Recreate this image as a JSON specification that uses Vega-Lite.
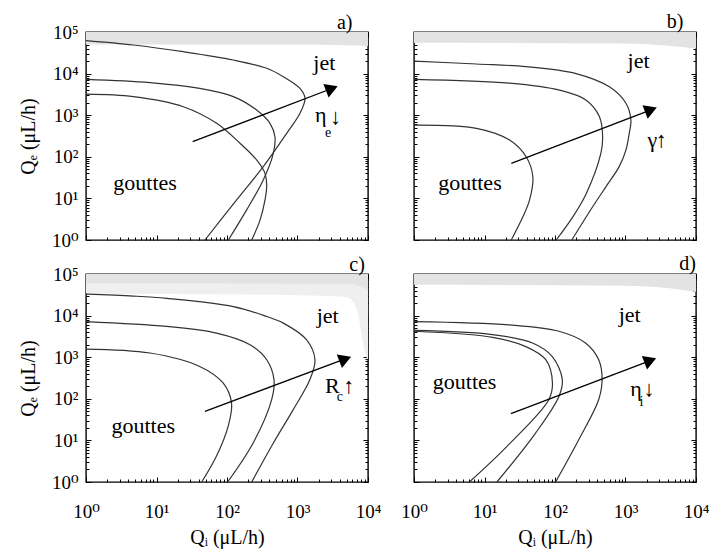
{
"$schema": "https://vega.github.io/schema/vega-lite/v6.json",
"padding": {"left": 17, "top": 10, "right": 10, "bottom": 5},
"background": "white",
"config": {
  "font": "Liberation Serif, Times New Roman, DejaVu Serif, serif",
  "view": {"stroke": "#000", "strokeWidth": 1.4},
  "axis": {"domain": false, "grid": false, "tickColor": "#000", "tickWidth": 1, "labelFont": "Liberation Serif, Times New Roman, DejaVu Serif, serif", "labelFontSize": 19, "labelColor": "#000", "titleFont": "Liberation Serif, Times New Roman, DejaVu Serif, serif", "titleFontSize": 20, "titleFontWeight": "normal", "titleColor": "#000", "labelFlush": false, "labelOverlap": false, "zindex": 1},
  "title": {"font": "Liberation Serif, Times New Roman, DejaVu Serif, serif", "fontSize": 20, "fontWeight": "normal", "color": "#000"}
},
"datasets": {
  "shade": [
    {"p":"a","tone":"dark","x":1,"y":50000,"y2":100000},{"p":"a","tone":"dark","x":1000,"y":50000,"y2":100000},{"p":"a","tone":"dark","x":5000,"y":48000,"y2":100000},{"p":"a","tone":"dark","x":10000,"y":46000,"y2":100000},
    {"p":"b","tone":"dark","x":1,"y":55000,"y2":100000},{"p":"b","tone":"dark","x":1000,"y":53000,"y2":100000},{"p":"b","tone":"dark","x":2000,"y":51000,"y2":100000},{"p":"b","tone":"dark","x":4000,"y":47000,"y2":100000},{"p":"b","tone":"dark","x":7000,"y":43000,"y2":100000},{"p":"b","tone":"dark","x":10000,"y":40000,"y2":100000},
    {"p":"c","tone":"light","x":1,"y":34000,"y2":100000},{"p":"c","tone":"light","x":1000,"y":31000,"y2":100000},{"p":"c","tone":"light","x":5000,"y":28000,"y2":100000},{"p":"c","tone":"light","x":6530,"y":18000,"y2":100000},{"p":"c","tone":"light","x":7200,"y":11600,"y2":100000},{"p":"c","tone":"light","x":8220,"y":3100,"y2":100000},{"p":"c","tone":"light","x":9060,"y":1280,"y2":100000},{"p":"c","tone":"light","x":10000,"y":870,"y2":100000},
    {"p":"c","tone":"dark","x":1,"y":60000,"y2":100000},{"p":"c","tone":"dark","x":5000,"y":58000,"y2":100000},{"p":"c","tone":"dark","x":8000,"y":50000,"y2":100000},{"p":"c","tone":"dark","x":10000,"y":40000,"y2":100000},
    {"p":"d","tone":"dark","x":1,"y":55000,"y2":100000},{"p":"d","tone":"dark","x":1000,"y":52000,"y2":100000},{"p":"d","tone":"dark","x":3000,"y":48000,"y2":100000},{"p":"d","tone":"dark","x":6000,"y":42000,"y2":100000},{"p":"d","tone":"dark","x":10000,"y":37000,"y2":100000}
  ],
  "curves": [
    {"p":"a","c":1,"i":0,"x":1,"y":62000},{"p":"a","c":1,"i":1,"x":4.7,"y":48700},{"p":"a","c":1,"i":2,"x":24,"y":33600},{"p":"a","c":1,"i":3,"x":123,"y":21200},{"p":"a","c":1,"i":4,"x":366,"y":13400},{"p":"a","c":1,"i":5,"x":630,"y":8400},{"p":"a","c":1,"i":6,"x":1084,"y":4400},{"p":"a","c":1,"i":7,"x":1277,"y":2560},{"p":"a","c":1,"i":8,"x":1084,"y":1110},{"p":"a","c":1,"i":9,"x":703,"y":367},{"p":"a","c":1,"i":10,"x":327,"y":58},{"p":"a","c":1,"i":11,"x":137,"y":9.2},{"p":"a","c":1,"i":12,"x":48.7,"y":1},
    {"p":"a","c":2,"i":0,"x":1,"y":7300},{"p":"a","c":2,"i":1,"x":8.1,"y":6100},{"p":"a","c":2,"i":2,"x":41,"y":4400},{"p":"a","c":2,"i":3,"x":123,"y":2800},{"p":"a","c":2,"i":4,"x":263,"y":1330},{"p":"a","c":2,"i":5,"x":407,"y":638},{"p":"a","c":2,"i":6,"x":479,"y":304},{"p":"a","c":2,"i":7,"x":454,"y":121},{"p":"a","c":2,"i":8,"x":327,"y":27.7},{"p":"a","c":2,"i":9,"x":190,"y":5.3},{"p":"a","c":2,"i":10,"x":104.5,"y":1},
    {"p":"a","c":3,"i":0,"x":1,"y":3200},{"p":"a","c":3,"i":1,"x":4.7,"y":2790},{"p":"a","c":3,"i":2,"x":24,"y":1600},{"p":"a","c":3,"i":3,"x":71.4,"y":638},{"p":"a","c":3,"i":4,"x":153,"y":211},{"p":"a","c":3,"i":5,"x":263,"y":84},{"p":"a","c":3,"i":6,"x":346,"y":40},{"p":"a","c":3,"i":7,"x":366,"y":21},{"p":"a","c":3,"i":8,"x":346,"y":9.2},{"p":"a","c":3,"i":9,"x":294,"y":3.0},{"p":"a","c":3,"i":10,"x":224,"y":1},
    {"p":"b","c":1,"i":0,"x":1,"y":20000},{"p":"b","c":1,"i":1,"x":7.7,"y":17000},{"p":"b","c":1,"i":2,"x":39,"y":14700},{"p":"b","c":1,"i":3,"x":199,"y":10000},{"p":"b","c":1,"i":4,"x":590,"y":4800},{"p":"b","c":1,"i":5,"x":1014,"y":1940},{"p":"b","c":1,"i":6,"x":1194,"y":767},{"p":"b","c":1,"i":7,"x":1130,"y":367},{"p":"b","c":1,"i":8,"x":1014,"y":145},{"p":"b","c":1,"i":9,"x":813,"y":58},{"p":"b","c":1,"i":10,"x":527,"y":19},{"p":"b","c":1,"i":11,"x":342,"y":6.3},{"p":"b","c":1,"i":12,"x":173,"y":1},
    {"p":"b","c":2,"i":0,"x":1,"y":7300},{"p":"b","c":2,"i":1,"x":22.7,"y":5900},{"p":"b","c":2,"i":2,"x":116,"y":4000},{"p":"b","c":2,"i":3,"x":277,"y":2300},{"p":"b","c":2,"i":4,"x":427,"y":920},{"p":"b","c":2,"i":5,"x":474,"y":304},{"p":"b","c":2,"i":6,"x":447,"y":121},{"p":"b","c":2,"i":7,"x":277,"y":13},{"p":"b","c":2,"i":8,"x":179,"y":3.6},{"p":"b","c":2,"i":9,"x":104,"y":1},
    {"p":"b","c":3,"i":0,"x":1,"y":580},{"p":"b","c":3,"i":1,"x":7.7,"y":484},{"p":"b","c":3,"i":2,"x":22.7,"y":253},{"p":"b","c":3,"i":3,"x":39,"y":100},{"p":"b","c":3,"i":4,"x":48.5,"y":33},{"p":"b","c":3,"i":5,"x":43.6,"y":9.2},{"p":"b","c":3,"i":6,"x":35,"y":3.6},{"p":"b","c":3,"i":7,"x":24,"y":1},
    {"p":"c","c":1,"i":0,"x":1,"y":32700},{"p":"c","c":1,"i":1,"x":4.7,"y":29500},{"p":"c","c":1,"i":2,"x":14,"y":26000},{"p":"c","c":1,"i":3,"x":123,"y":16500},{"p":"c","c":1,"i":4,"x":366,"y":9500},{"p":"c","c":1,"i":5,"x":630,"y":6600},{"p":"c","c":1,"i":6,"x":1350,"y":2600},{"p":"c","c":1,"i":7,"x":1770,"y":870},{"p":"c","c":1,"i":8,"x":1500,"y":290},{"p":"c","c":1,"i":9,"x":870,"y":55},{"p":"c","c":1,"i":10,"x":457,"y":8.8},{"p":"c","c":1,"i":11,"x":224,"y":1},
    {"p":"c","c":2,"i":0,"x":1,"y":7200},{"p":"c","c":2,"i":1,"x":14,"y":5500},{"p":"c","c":2,"i":2,"x":71,"y":3800},{"p":"c","c":2,"i":3,"x":212,"y":2000},{"p":"c","c":2,"i":4,"x":366,"y":870},{"p":"c","c":2,"i":5,"x":464,"y":290},{"p":"c","c":2,"i":6,"x":430,"y":96},{"p":"c","c":2,"i":7,"x":236,"y":8.8},{"p":"c","c":2,"i":8,"x":102,"y":1},
    {"p":"c","c":3,"i":0,"x":1,"y":1570},{"p":"c","c":3,"i":1,"x":8.1,"y":1260},{"p":"c","c":3,"i":2,"x":41,"y":600},{"p":"c","c":3,"i":3,"x":88,"y":240},{"p":"c","c":3,"i":4,"x":116,"y":80},{"p":"c","c":3,"i":5,"x":104,"y":22},{"p":"c","c":3,"i":6,"x":71,"y":4.2},{"p":"c","c":3,"i":7,"x":43.8,"y":1},
    {"p":"d","c":1,"i":0,"x":1,"y":7200},{"p":"d","c":1,"i":1,"x":22.4,"y":6000},{"p":"d","c":1,"i":2,"x":114,"y":4200},{"p":"d","c":1,"i":3,"x":271,"y":2200},{"p":"d","c":1,"i":4,"x":417,"y":870},{"p":"d","c":1,"i":5,"x":466,"y":290},{"p":"d","c":1,"i":6,"x":417,"y":96},{"p":"d","c":1,"i":7,"x":218,"y":10.5},{"p":"d","c":1,"i":8,"x":102,"y":1},
    {"p":"d","c":2,"i":0,"x":1,"y":4400},{"p":"d","c":2,"i":1,"x":13,"y":3500},{"p":"d","c":2,"i":2,"x":48,"y":2200},{"p":"d","c":2,"i":3,"x":91,"y":1050},{"p":"d","c":2,"i":4,"x":127,"y":290},{"p":"d","c":2,"i":5,"x":114,"y":115},{"p":"d","c":2,"i":6,"x":53,"y":15},{"p":"d","c":2,"i":7,"x":15,"y":1},
    {"p":"d","c":3,"i":0,"x":1,"y":4200},{"p":"d","c":3,"i":1,"x":13,"y":3000},{"p":"d","c":3,"i":2,"x":38.6,"y":1800},{"p":"d","c":3,"i":3,"x":74,"y":870},{"p":"d","c":3,"i":4,"x":92,"y":240},{"p":"d","c":3,"i":5,"x":82,"y":96},{"p":"d","c":3,"i":6,"x":21,"y":7.3},{"p":"d","c":3,"i":7,"x":6.1,"y":1}
  ],
  "arrows": [
    {"p":"a","i":0,"x":32.6,"y":231},{"p":"a","i":1,"x":3070,"y":4385},
    {"p":"b","i":0,"x":24,"y":69.6},{"p":"b","i":1,"x":2296,"y":1349},
    {"p":"c","i":0,"x":48.7,"y":50},{"p":"c","i":1,"x":4750,"y":910},
    {"p":"d","i":0,"x":23.7,"y":44},{"p":"d","i":1,"x":2250,"y":832}
  ],
  "heads": [
    {"p":"a","x":3070,"y":4385},{"p":"b","x":2296,"y":1349},{"p":"c","x":4750,"y":910},{"p":"d","x":2250,"y":832}
  ],
  "labels": [
    {"p":"a","x":1675,"y":12200,"t":"jet"},{"p":"a","x":2.44,"y":15.9,"t":"gouttes"},{"p":"a","x":1770,"y":698,"t":"η"},{"p":"a","x":2890,"y":614,"t":"↓"},
    {"p":"b","x":1069,"y":13400,"t":"jet"},{"p":"b","x":2.2,"y":15.9,"t":"gouttes"},{"p":"b","x":2050,"y":175,"t":"γ"},{"p":"b","x":2690,"y":175,"t":"↑"},
    {"p":"c","x":1872,"y":6590,"t":"jet"},{"p":"c","x":2.3,"y":14.7,"t":"gouttes"},{"p":"c","x":2455,"y":139,"t":"R"},{"p":"c","x":4470,"y":139,"t":"↑"},
    {"p":"d","x":800,"y":7200,"t":"jet"},{"p":"d","x":1.85,"y":173,"t":"gouttes"},{"p":"d","x":1170,"y":115,"t":"η"},{"p":"d","x":1800,"y":115,"t":"↓"}
  ],
  "subs": [
    {"p":"a","x":2455,"y":304,"t":"e"},{"p":"c","x":3600,"y":87,"t":"c"},{"p":"d","x":1585,"y":66,"t":"i"}
  ]
},
"columns": 2,
"bounds": "flush",
"spacing": {"row": 34, "column": 46},
"concat": [
  {
    "width": 282, "height": 208,
    "title": {"text": "a)", "anchor": "end", "dx": -16, "offset": -10},
    "layer": [
      {"data": {"name": "shade"}, "transform": [{"filter": "datum.p==='a' && datum.tone==='light'"}],
       "mark": {"type": "area", "color": "#f0f0f0", "interpolate": "monotone", "orient": "vertical"},
       "encoding": {
         "x": {"field": "x", "type": "quantitative", "scale": {"type": "log", "domain": [1, 10000], "nice": false}, "axis": null},
         "y": {"field": "y", "type": "quantitative", "scale": {"type": "log", "domain": [1, 100000], "nice": false}, "axis": {"orient": "left", "values": [1,10,100,1000,10000,100000], "ticks": false, "labelExpr": "'10' + ['⁰','¹','²','³','⁴','⁵'][round(log(datum.value)/LN10)]", "labelPadding": 8, "title": "Qₑ (μL/h)", "titlePadding": 13}},
         "y2": {"field": "y2"}}},
      {"data": {"name": "shade"}, "transform": [{"filter": "datum.p==='a' && datum.tone==='dark'"}],
       "mark": {"type": "area", "color": "#e3e3e3", "interpolate": "monotone", "orient": "vertical"},
       "encoding": {
         "x": {"field": "x", "type": "quantitative", "scale": {"type": "log", "domain": [1, 10000], "nice": false}, "axis": {"orient": "bottom", "values": [1,2,3,4,5,6,7,8,9,10,20,30,40,50,60,70,80,90,100,200,300,400,500,600,700,800,900,1000,2000,3000,4000,5000,6000,7000,8000,9000,10000], "labels": false, "title": null, "tickSize": {"condition": {"test": "datum.value==1||datum.value==10||datum.value==100||datum.value==1000||datum.value==10000||datum.value==100000", "value": -5}, "value": -3}}},
         "y": {"field": "y", "type": "quantitative", "scale": {"type": "log", "domain": [1, 100000], "nice": false}, "axis": {"orient": "left", "values": [1,2,3,4,5,6,7,8,9,10,20,30,40,50,60,70,80,90,100,200,300,400,500,600,700,800,900,1000,2000,3000,4000,5000,6000,7000,8000,9000,10000,20000,30000,40000,50000,60000,70000,80000,90000,100000], "labels": false, "title": null, "tickSize": {"condition": {"test": "datum.value==1||datum.value==10||datum.value==100||datum.value==1000||datum.value==10000||datum.value==100000", "value": -5}, "value": -3}}},
         "y2": {"field": "y2"}}},
      {"data": {"name": "curves"}, "transform": [{"filter": "datum.p==='a'"}],
       "mark": {"type": "line", "interpolate": "catmull-rom", "color": "#333", "strokeWidth": 1.2},
       "encoding": {
         "x": {"field": "x", "type": "quantitative", "scale": {"type": "log", "domain": [1, 10000], "nice": false}, "axis": {"orient": "top", "values": [1,2,3,4,5,6,7,8,9,10,20,30,40,50,60,70,80,90,100,200,300,400,500,600,700,800,900,1000,2000,3000,4000,5000,6000,7000,8000,9000,10000], "labels": false, "title": null, "tickSize": {"condition": {"test": "datum.value==1||datum.value==10||datum.value==100||datum.value==1000||datum.value==10000||datum.value==100000", "value": -5}, "value": -3}}},
         "y": {"field": "y", "type": "quantitative", "scale": {"type": "log", "domain": [1, 100000], "nice": false}, "axis": {"orient": "right", "values": [1,2,3,4,5,6,7,8,9,10,20,30,40,50,60,70,80,90,100,200,300,400,500,600,700,800,900,1000,2000,3000,4000,5000,6000,7000,8000,9000,10000,20000,30000,40000,50000,60000,70000,80000,90000,100000], "labels": false, "title": null, "tickSize": {"condition": {"test": "datum.value==1||datum.value==10||datum.value==100||datum.value==1000||datum.value==10000||datum.value==100000", "value": -5}, "value": -3}}},
         "detail": {"field": "c"}, "order": {"field": "i"}}},
      {"data": {"name": "arrows"}, "transform": [{"filter": "datum.p==='a'"}],
       "mark": {"type": "line", "color": "#000", "strokeWidth": 1.3},
       "encoding": {"x": {"field": "x", "type": "quantitative", "axis": null}, "y": {"field": "y", "type": "quantitative", "axis": null}, "order": {"field": "i"}}},
      {"data": {"name": "heads"}, "transform": [{"filter": "datum.p==='a'"}],
       "mark": {"type": "point", "shape": "triangle-right", "angle": 339, "filled": true, "color": "#000", "opacity": 1, "size": 210},
       "encoding": {"x": {"field": "x", "type": "quantitative", "axis": null}, "y": {"field": "y", "type": "quantitative", "axis": null}}},
      {"data": {"name": "labels"}, "transform": [{"filter": "datum.p==='a'"}],
       "mark": {"type": "text", "align": "left", "baseline": "alphabetic", "font": "Liberation Serif, Times New Roman, DejaVu Serif, serif", "fontSize": 22, "color": "#000"},
       "encoding": {"x": {"field": "x", "type": "quantitative", "axis": null}, "y": {"field": "y", "type": "quantitative", "axis": null}, "text": {"field": "t"}}},
      {"data": {"name": "subs"}, "transform": [{"filter": "datum.p==='a'"}],
       "mark": {"type": "text", "align": "left", "baseline": "alphabetic", "font": "Liberation Serif, Times New Roman, DejaVu Serif, serif", "fontSize": 14, "color": "#000"},
       "encoding": {"x": {"field": "x", "type": "quantitative", "axis": null}, "y": {"field": "y", "type": "quantitative", "axis": null}, "text": {"field": "t"}}}
    ],
    "resolve": {"axis": {"x": "independent", "y": "independent"}}
  },
  {
    "width": 282, "height": 208,
    "title": {"text": "b)", "anchor": "end", "dx": -13, "offset": 0},
    "layer": [
      {"data": {"name": "shade"}, "transform": [{"filter": "datum.p==='b' && datum.tone==='dark'"}],
       "mark": {"type": "area", "color": "#e3e3e3", "interpolate": "monotone", "orient": "vertical"},
       "encoding": {
         "x": {"field": "x", "type": "quantitative", "scale": {"type": "log", "domain": [1, 10000], "nice": false}, "axis": {"orient": "bottom", "values": [1,2,3,4,5,6,7,8,9,10,20,30,40,50,60,70,80,90,100,200,300,400,500,600,700,800,900,1000,2000,3000,4000,5000,6000,7000,8000,9000,10000], "labels": false, "title": null, "tickSize": {"condition": {"test": "datum.value==1||datum.value==10||datum.value==100||datum.value==1000||datum.value==10000||datum.value==100000", "value": -5}, "value": -3}}},
         "y": {"field": "y", "type": "quantitative", "scale": {"type": "log", "domain": [1, 100000], "nice": false}, "axis": {"orient": "left", "values": [1,2,3,4,5,6,7,8,9,10,20,30,40,50,60,70,80,90,100,200,300,400,500,600,700,800,900,1000,2000,3000,4000,5000,6000,7000,8000,9000,10000,20000,30000,40000,50000,60000,70000,80000,90000,100000], "labels": false, "title": null, "tickSize": {"condition": {"test": "datum.value==1||datum.value==10||datum.value==100||datum.value==1000||datum.value==10000||datum.value==100000", "value": -5}, "value": -3}}},
         "y2": {"field": "y2"}}},
      {"data": {"name": "curves"}, "transform": [{"filter": "datum.p==='b'"}],
       "mark": {"type": "line", "interpolate": "catmull-rom", "color": "#333", "strokeWidth": 1.2},
       "encoding": {
         "x": {"field": "x", "type": "quantitative", "scale": {"type": "log", "domain": [1, 10000], "nice": false}, "axis": {"orient": "top", "values": [1,2,3,4,5,6,7,8,9,10,20,30,40,50,60,70,80,90,100,200,300,400,500,600,700,800,900,1000,2000,3000,4000,5000,6000,7000,8000,9000,10000], "labels": false, "title": null, "tickSize": {"condition": {"test": "datum.value==1||datum.value==10||datum.value==100||datum.value==1000||datum.value==10000||datum.value==100000", "value": -5}, "value": -3}}},
         "y": {"field": "y", "type": "quantitative", "scale": {"type": "log", "domain": [1, 100000], "nice": false}, "axis": {"orient": "right", "values": [1,2,3,4,5,6,7,8,9,10,20,30,40,50,60,70,80,90,100,200,300,400,500,600,700,800,900,1000,2000,3000,4000,5000,6000,7000,8000,9000,10000,20000,30000,40000,50000,60000,70000,80000,90000,100000], "labels": false, "title": null, "tickSize": {"condition": {"test": "datum.value==1||datum.value==10||datum.value==100||datum.value==1000||datum.value==10000||datum.value==100000", "value": -5}, "value": -3}}},
         "detail": {"field": "c"}, "order": {"field": "i"}}},
      {"data": {"name": "arrows"}, "transform": [{"filter": "datum.p==='b'"}],
       "mark": {"type": "line", "color": "#000", "strokeWidth": 1.3},
       "encoding": {"x": {"field": "x", "type": "quantitative", "axis": null}, "y": {"field": "y", "type": "quantitative", "axis": null}, "order": {"field": "i"}}},
      {"data": {"name": "heads"}, "transform": [{"filter": "datum.p==='b'"}],
       "mark": {"type": "point", "shape": "triangle-right", "angle": 339, "filled": true, "color": "#000", "opacity": 1, "size": 210},
       "encoding": {"x": {"field": "x", "type": "quantitative", "axis": null}, "y": {"field": "y", "type": "quantitative", "axis": null}}},
      {"data": {"name": "labels"}, "transform": [{"filter": "datum.p==='b'"}],
       "mark": {"type": "text", "align": "left", "baseline": "alphabetic", "font": "Liberation Serif, Times New Roman, DejaVu Serif, serif", "fontSize": 22, "color": "#000"},
       "encoding": {"x": {"field": "x", "type": "quantitative", "axis": null}, "y": {"field": "y", "type": "quantitative", "axis": null}, "text": {"field": "t"}}}
    ],
    "resolve": {"axis": {"x": "independent", "y": "independent"}}
  },
  {
    "width": 282, "height": 208,
    "title": {"text": "c)", "anchor": "end", "dx": -16, "offset": -10},
    "layer": [
      {"data": {"name": "shade"}, "transform": [{"filter": "datum.p==='c' && datum.tone==='light'"}],
       "mark": {"type": "area", "color": "#efefef", "interpolate": "monotone", "orient": "vertical"},
       "encoding": {
         "x": {"field": "x", "type": "quantitative", "scale": {"type": "log", "domain": [1, 10000], "nice": false}, "axis": {"orient": "bottom", "values": [1,10,100,1000,10000], "ticks": false, "labelExpr": "'10' + ['⁰','¹','²','³','⁴','⁵'][round(log(datum.value)/LN10)]", "labelPadding": 20, "title": "Qᵢ (μL/h)", "titlePadding": 6}},
         "y": {"field": "y", "type": "quantitative", "scale": {"type": "log", "domain": [1, 100000], "nice": false}, "axis": {"orient": "left", "values": [1,10,100,1000,10000,100000], "ticks": false, "labelExpr": "'10' + ['⁰','¹','²','³','⁴','⁵'][round(log(datum.value)/LN10)]", "labelPadding": 8, "title": "Qₑ (μL/h)", "titlePadding": 13}},
         "y2": {"field": "y2"}}},
      {"data": {"name": "shade"}, "transform": [{"filter": "datum.p==='c' && datum.tone==='dark'"}],
       "mark": {"type": "area", "color": "#e3e3e3", "interpolate": "monotone", "orient": "vertical"},
       "encoding": {
         "x": {"field": "x", "type": "quantitative", "scale": {"type": "log", "domain": [1, 10000], "nice": false}, "axis": {"orient": "bottom", "values": [1,2,3,4,5,6,7,8,9,10,20,30,40,50,60,70,80,90,100,200,300,400,500,600,700,800,900,1000,2000,3000,4000,5000,6000,7000,8000,9000,10000], "labels": false, "title": null, "tickSize": {"condition": {"test": "datum.value==1||datum.value==10||datum.value==100||datum.value==1000||datum.value==10000||datum.value==100000", "value": -5}, "value": -3}}},
         "y": {"field": "y", "type": "quantitative", "scale": {"type": "log", "domain": [1, 100000], "nice": false}, "axis": {"orient": "left", "values": [1,2,3,4,5,6,7,8,9,10,20,30,40,50,60,70,80,90,100,200,300,400,500,600,700,800,900,1000,2000,3000,4000,5000,6000,7000,8000,9000,10000,20000,30000,40000,50000,60000,70000,80000,90000,100000], "labels": false, "title": null, "tickSize": {"condition": {"test": "datum.value==1||datum.value==10||datum.value==100||datum.value==1000||datum.value==10000||datum.value==100000", "value": -5}, "value": -3}}},
         "y2": {"field": "y2"}}},
      {"data": {"name": "curves"}, "transform": [{"filter": "datum.p==='c'"}],
       "mark": {"type": "line", "interpolate": "catmull-rom", "color": "#333", "strokeWidth": 1.2},
       "encoding": {
         "x": {"field": "x", "type": "quantitative", "scale": {"type": "log", "domain": [1, 10000], "nice": false}, "axis": {"orient": "top", "values": [1,2,3,4,5,6,7,8,9,10,20,30,40,50,60,70,80,90,100,200,300,400,500,600,700,800,900,1000,2000,3000,4000,5000,6000,7000,8000,9000,10000], "labels": false, "title": null, "tickSize": {"condition": {"test": "datum.value==1||datum.value==10||datum.value==100||datum.value==1000||datum.value==10000||datum.value==100000", "value": -5}, "value": -3}}},
         "y": {"field": "y", "type": "quantitative", "scale": {"type": "log", "domain": [1, 100000], "nice": false}, "axis": {"orient": "right", "values": [1,2,3,4,5,6,7,8,9,10,20,30,40,50,60,70,80,90,100,200,300,400,500,600,700,800,900,1000,2000,3000,4000,5000,6000,7000,8000,9000,10000,20000,30000,40000,50000,60000,70000,80000,90000,100000], "labels": false, "title": null, "tickSize": {"condition": {"test": "datum.value==1||datum.value==10||datum.value==100||datum.value==1000||datum.value==10000||datum.value==100000", "value": -5}, "value": -3}}},
         "detail": {"field": "c"}, "order": {"field": "i"}}},
      {"data": {"name": "arrows"}, "transform": [{"filter": "datum.p==='c'"}],
       "mark": {"type": "line", "color": "#000", "strokeWidth": 1.3},
       "encoding": {"x": {"field": "x", "type": "quantitative", "axis": null}, "y": {"field": "y", "type": "quantitative", "axis": null}, "order": {"field": "i"}}},
      {"data": {"name": "heads"}, "transform": [{"filter": "datum.p==='c'"}],
       "mark": {"type": "point", "shape": "triangle-right", "angle": 339, "filled": true, "color": "#000", "opacity": 1, "size": 210},
       "encoding": {"x": {"field": "x", "type": "quantitative", "axis": null}, "y": {"field": "y", "type": "quantitative", "axis": null}}},
      {"data": {"name": "labels"}, "transform": [{"filter": "datum.p==='c'"}],
       "mark": {"type": "text", "align": "left", "baseline": "alphabetic", "font": "Liberation Serif, Times New Roman, DejaVu Serif, serif", "fontSize": 22, "color": "#000"},
       "encoding": {"x": {"field": "x", "type": "quantitative", "axis": null}, "y": {"field": "y", "type": "quantitative", "axis": null}, "text": {"field": "t"}}},
      {"data": {"name": "subs"}, "transform": [{"filter": "datum.p==='c'"}],
       "mark": {"type": "text", "align": "left", "baseline": "alphabetic", "font": "Liberation Serif, Times New Roman, DejaVu Serif, serif", "fontSize": 14, "color": "#000"},
       "encoding": {"x": {"field": "x", "type": "quantitative", "axis": null}, "y": {"field": "y", "type": "quantitative", "axis": null}, "text": {"field": "t"}}}
    ],
    "resolve": {"axis": {"x": "independent", "y": "independent"}}
  },
  {
    "width": 282, "height": 208,
    "title": {"text": "d)", "anchor": "end", "dx": -13, "offset": 0},
    "layer": [
      {"data": {"name": "shade"}, "transform": [{"filter": "datum.p==='d' && datum.tone==='light'"}],
       "mark": {"type": "area", "color": "#f0f0f0", "interpolate": "monotone", "orient": "vertical"},
       "encoding": {
         "x": {"field": "x", "type": "quantitative", "scale": {"type": "log", "domain": [1, 10000], "nice": false}, "axis": {"orient": "bottom", "values": [1,10,100,1000,10000], "ticks": false, "labelExpr": "'10' + ['⁰','¹','²','³','⁴','⁵'][round(log(datum.value)/LN10)]", "labelPadding": 20, "title": "Qᵢ (μL/h)", "titlePadding": 6}},
         "y": {"field": "y", "type": "quantitative", "scale": {"type": "log", "domain": [1, 100000], "nice": false}, "axis": null},
         "y2": {"field": "y2"}}},
      {"data": {"name": "shade"}, "transform": [{"filter": "datum.p==='d' && datum.tone==='dark'"}],
       "mark": {"type": "area", "color": "#e3e3e3", "interpolate": "monotone", "orient": "vertical"},
       "encoding": {
         "x": {"field": "x", "type": "quantitative", "scale": {"type": "log", "domain": [1, 10000], "nice": false}, "axis": {"orient": "bottom", "values": [1,2,3,4,5,6,7,8,9,10,20,30,40,50,60,70,80,90,100,200,300,400,500,600,700,800,900,1000,2000,3000,4000,5000,6000,7000,8000,9000,10000], "labels": false, "title": null, "tickSize": {"condition": {"test": "datum.value==1||datum.value==10||datum.value==100||datum.value==1000||datum.value==10000||datum.value==100000", "value": -5}, "value": -3}}},
         "y": {"field": "y", "type": "quantitative", "scale": {"type": "log", "domain": [1, 100000], "nice": false}, "axis": {"orient": "left", "values": [1,2,3,4,5,6,7,8,9,10,20,30,40,50,60,70,80,90,100,200,300,400,500,600,700,800,900,1000,2000,3000,4000,5000,6000,7000,8000,9000,10000,20000,30000,40000,50000,60000,70000,80000,90000,100000], "labels": false, "title": null, "tickSize": {"condition": {"test": "datum.value==1||datum.value==10||datum.value==100||datum.value==1000||datum.value==10000||datum.value==100000", "value": -5}, "value": -3}}},
         "y2": {"field": "y2"}}},
      {"data": {"name": "curves"}, "transform": [{"filter": "datum.p==='d'"}],
       "mark": {"type": "line", "interpolate": "catmull-rom", "color": "#333", "strokeWidth": 1.2},
       "encoding": {
         "x": {"field": "x", "type": "quantitative", "scale": {"type": "log", "domain": [1, 10000], "nice": false}, "axis": {"orient": "top", "values": [1,2,3,4,5,6,7,8,9,10,20,30,40,50,60,70,80,90,100,200,300,400,500,600,700,800,900,1000,2000,3000,4000,5000,6000,7000,8000,9000,10000], "labels": false, "title": null, "tickSize": {"condition": {"test": "datum.value==1||datum.value==10||datum.value==100||datum.value==1000||datum.value==10000||datum.value==100000", "value": -5}, "value": -3}}},
         "y": {"field": "y", "type": "quantitative", "scale": {"type": "log", "domain": [1, 100000], "nice": false}, "axis": {"orient": "right", "values": [1,2,3,4,5,6,7,8,9,10,20,30,40,50,60,70,80,90,100,200,300,400,500,600,700,800,900,1000,2000,3000,4000,5000,6000,7000,8000,9000,10000,20000,30000,40000,50000,60000,70000,80000,90000,100000], "labels": false, "title": null, "tickSize": {"condition": {"test": "datum.value==1||datum.value==10||datum.value==100||datum.value==1000||datum.value==10000||datum.value==100000", "value": -5}, "value": -3}}},
         "detail": {"field": "c"}, "order": {"field": "i"}}},
      {"data": {"name": "arrows"}, "transform": [{"filter": "datum.p==='d'"}],
       "mark": {"type": "line", "color": "#000", "strokeWidth": 1.3},
       "encoding": {"x": {"field": "x", "type": "quantitative", "axis": null}, "y": {"field": "y", "type": "quantitative", "axis": null}, "order": {"field": "i"}}},
      {"data": {"name": "heads"}, "transform": [{"filter": "datum.p==='d'"}],
       "mark": {"type": "point", "shape": "triangle-right", "angle": 339, "filled": true, "color": "#000", "opacity": 1, "size": 210},
       "encoding": {"x": {"field": "x", "type": "quantitative", "axis": null}, "y": {"field": "y", "type": "quantitative", "axis": null}}},
      {"data": {"name": "labels"}, "transform": [{"filter": "datum.p==='d'"}],
       "mark": {"type": "text", "align": "left", "baseline": "alphabetic", "font": "Liberation Serif, Times New Roman, DejaVu Serif, serif", "fontSize": 22, "color": "#000"},
       "encoding": {"x": {"field": "x", "type": "quantitative", "axis": null}, "y": {"field": "y", "type": "quantitative", "axis": null}, "text": {"field": "t"}}},
      {"data": {"name": "subs"}, "transform": [{"filter": "datum.p==='d'"}],
       "mark": {"type": "text", "align": "left", "baseline": "alphabetic", "font": "Liberation Serif, Times New Roman, DejaVu Serif, serif", "fontSize": 14, "color": "#000"},
       "encoding": {"x": {"field": "x", "type": "quantitative", "axis": null}, "y": {"field": "y", "type": "quantitative", "axis": null}, "text": {"field": "t"}}}
    ],
    "resolve": {"axis": {"x": "independent", "y": "independent"}}
  }
]
}
